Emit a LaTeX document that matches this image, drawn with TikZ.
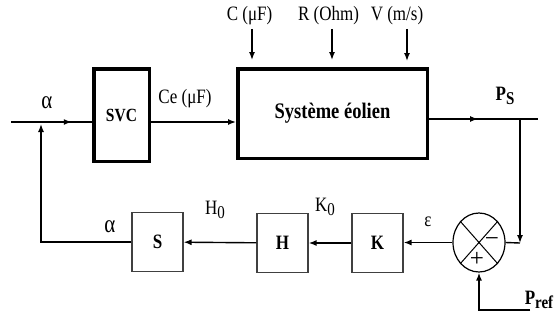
\documentclass[tikz,border=0pt]{standalone}
\usepackage{fontspec}
\setmainfont{Liberation Serif}
\usetikzlibrary{arrows.meta,shapes.geometric,decorations.markings}

\newcommand{\lowsub}[1]{\raisebox{-0.5ex}{\fontsize{15}{17}\selectfont #1}}
\newcommand{\tallt}[1]{\scalebox{1}[1.2]{#1}}

\begin{document}
\begin{tikzpicture}[x=1pt, y=-1pt,
  every node/.style={font=\fontsize{17}{19}\selectfont},
  bigblock/.style={draw, line width=3.5pt, inner sep=0pt},
  smallblock/.style={draw=black!75, line width=1.2pt, inner sep=0pt,
    minimum width=51pt, minimum height=59pt, font=\fontsize{17}{19}\selectfont\bfseries},
  boldlbl/.style={font=\fontsize{17}{19}\selectfont\bfseries},
  greeklbl/.style={font=\fontsize{21}{23}\selectfont},
  signlbl/.style={font=\fontsize{25}{27}\selectfont},
  sig/.style={line width=1.4pt},
  tip/.style={-{Latex[length=8pt,width=6pt]}},
  midtip/.style={decoration={markings,
    mark=at position #1 with {\arrow{Latex[length=8pt,width=6pt]}}}, postaction=decorate},
  midtip/.default=0.5]
  \useasboundingbox (0,0) rectangle (558,322);

  % forward path
  \node[bigblock, minimum width=55.5pt, minimum height=92.5pt,
        font=\fontsize{15.5}{18}\selectfont\bfseries] (svc) at (121.5,115) {\tallt{SVC}};
  \node[bigblock, minimum width=189.5pt, minimum height=89.5pt,
        font=\fontsize{18.5}{20}\selectfont\bfseries] (sys) at (332.5,113.5) {\tallt{Système éolien}};

  \coordinate (in) at (11,122);
  \coordinate (out) at (538,119);
  \draw[sig, midtip=0.75] (in) -- (svc.west |- in);
  \draw[sig, tip] (svc.east |- in) -- (sys.west |- in);
  \draw[sig, midtip=0.45] (sys.east |- out) -- (out);

  \node[greeklbl] (alphain) at (47,103) {\tallt{α}};
  \node (ce) at (185,99) {\tallt{Ce (μF)}};
  \node[boldlbl] (ps) at (505,96) {\tallt{P\lowsub{\bfseries S}}};

  % parameters of the wind system
  \node (cap) at (249.5,16) {\tallt{C (μF)}};
  \node (res) at (328.5,16) {\tallt{R (Ohm)}};
  \node (wind) at (397,16) {\tallt{V (m/s)}};
  \coordinate (capin) at (252,60);
  \coordinate (resin) at (332,60);
  \coordinate (windin) at (407,61);
  \draw[sig, tip] (cap.south -| capin) -- (capin);
  \draw[sig, tip] (res.south -| resin) -- (resin);
  \draw[sig, tip] (wind.south -| windin) -- (windin);

  % comparator
  \node[draw, ellipse, line width=1.2pt, minimum width=52pt, minimum height=59pt] (sum) at (479,242.5) {};
  \draw[line width=1pt] (sum.north west) -- (sum.south east)
                        (sum.north east) -- (sum.south west);
  \node[signlbl] (minus) at (492,242) {−};
  \node[signlbl] (plus) at (477,259) {+};

  \coordinate (tap) at (520,119);
  \coordinate (corner) at (520,243);
  \draw[sig, tip] (tap) -- (corner);
  \draw[sig] (corner) -- (sum.east);

  \coordinate (refend) at (530,310);
  \coordinate (refc) at (479,310);
  \draw[sig, tip] (refend) -- (refc) -- (sum.south);
  \node[boldlbl] (pref) at (539,300) {\tallt{P\lowsub{\bfseries ref}}};

  % feedback path
  \node[smallblock] (kb) at (377.5,243) {\tallt{K}};
  \node[smallblock] (hb) at (282.5,243) {\tallt{H}};
  \node[smallblock] (sb) at (157.5,242) {\tallt{S}};
  \draw[sig, tip] (sum.west) -- (sum.west -| kb.east);
  \draw[sig, tip] (kb) -- (hb);
  \draw[sig, tip] (hb) -- (sb);

  \coordinate (fb) at (41,242);
  \draw[sig, tip, shorten >=2pt] (sb.west |- fb) -- (fb) -- (fb |- in);

  \node (eps) at (428,222) {\tallt{ε}};
  \node (k0) at (325,207) {\tallt{K\lowsub{0}}};
  \node (h0) at (215,210) {\tallt{H\lowsub{0}}};
  \node[greeklbl] (alphaout) at (110,227) {\tallt{α}};
\end{tikzpicture}
\end{document}
